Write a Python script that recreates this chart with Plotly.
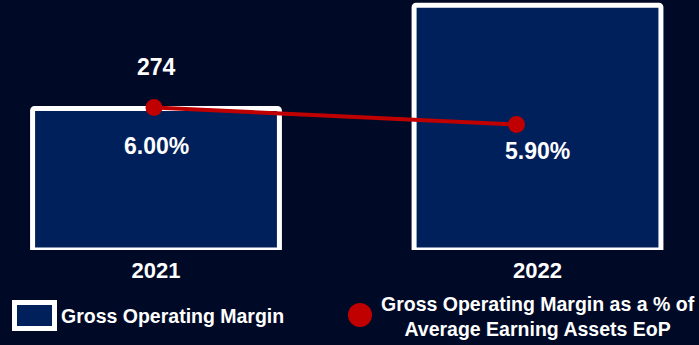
import plotly.graph_objects as go

# Data
years = ["2021", "2022"]
gom_values = [274, 474]            # Gross Operating Margin
gom_pct = [6.00, 5.90]             # as a % of Average Earning Assets EoP
bar_name = "Gross Operating Margin"
line_name = "Gross Operating Margin as a % of<br>Average Earning Assets EoP"

W, H = 699, 345
M_L, M_R, M_T, M_B = 0, 0, 0, 95
PLOT_H = H - M_T - M_B
PLOT_W = W - M_L - M_R
Y_MAX = 484

BG = "#000a27"
NAVY = "#00205c"
RED = "#c00000"
FONT = "Liberation Sans, Arial, sans-serif"


def px_x(p):
    return (p - M_L) / PLOT_W


def px_y(p):
    return (M_T + PLOT_H - p) / PLOT_H


fig = go.Figure()

fig.add_trace(go.Bar(
    x=years, y=gom_values, name=bar_name,
    width=0.647,
    marker=dict(color=NAVY, line=dict(color="white", width=5), cornerradius=2),
    xaxis="x", yaxis="y", showlegend=False, hoverinfo="skip",
))

fig.add_trace(go.Scatter(
    x=years, y=gom_pct, name=line_name, mode="lines+markers",
    line=dict(color=RED, width=4),
    marker=dict(color=RED, size=17, symbol="circle"),
    xaxis="x2", yaxis="y2", showlegend=False, hoverinfo="skip",
))

annotations = []
label_font = dict(family=FONT, size=23, color="white", weight="bold")
# value labels above the bars, only where there is headroom inside the plot
label_gap = 41
px_per_unit = PLOT_H / Y_MAX
for i, v in enumerate(gom_values):
    if (Y_MAX - v) * px_per_unit < label_gap + 12:
        continue
    annotations.append(dict(
        x=i, y=v, xref="x", yref="y", text=f"{v}", showarrow=False,
        yshift=label_gap, font=label_font,
    ))
# percentage labels inside the bars
pct_shift = [-39, -27]
for i, (p, s) in enumerate(zip(gom_pct, pct_shift)):
    annotations.append(dict(
        x=i, y=p, xref="x", yref="y2", text=f"{p:.2f}%", showarrow=False,
        yshift=s, font=label_font,
    ))

# custom legend
leg_font = dict(family=FONT, size=19.5, color="white", weight="bold")
annotations.append(dict(
    x=px_x(59), y=px_y(316), xref="paper", yref="paper", text=bar_name,
    showarrow=False, xanchor="left", yanchor="middle", font=leg_font,
))
annotations.append(dict(
    x=px_x(538), y=px_y(316), xref="paper", yref="paper", text=line_name,
    showarrow=False, xanchor="center", yanchor="middle", align="center",
    font=leg_font,
))

shapes = [
    dict(type="rect", xref="paper", yref="paper",
         x0=px_x(14.5), x1=px_x(54.5), y0=px_y(328.5), y1=px_y(302.5),
         fillcolor=NAVY, line=dict(color="white", width=5)),
    dict(type="circle", xref="paper", yref="paper",
         x0=px_x(348), x1=px_x(372), y0=px_y(327), y1=px_y(303),
         fillcolor=RED, line=dict(color=RED, width=0)),
]

fig.update_layout(
    width=W, height=H,
    margin=dict(l=M_L, r=M_R, t=M_T, b=M_B, pad=0),
    paper_bgcolor=BG, plot_bgcolor=BG,
    showlegend=False,
    xaxis=dict(type="category", range=[-0.4089, 1.4233], showgrid=False,
               zeroline=False, showline=False, ticks="",
               tickfont=dict(family=FONT, size=22, color="white", weight="bold"),
               ticklabelstandoff=5),
    yaxis=dict(range=[0, Y_MAX], visible=False),
    xaxis2=dict(type="category", overlaying="x", range=[-0.4248, 1.5035],
                visible=False),
    yaxis2=dict(overlaying="y", range=[5.162, 6.632], visible=False),
    annotations=annotations,
    shapes=shapes,
)

fig.write_html("out.html")
